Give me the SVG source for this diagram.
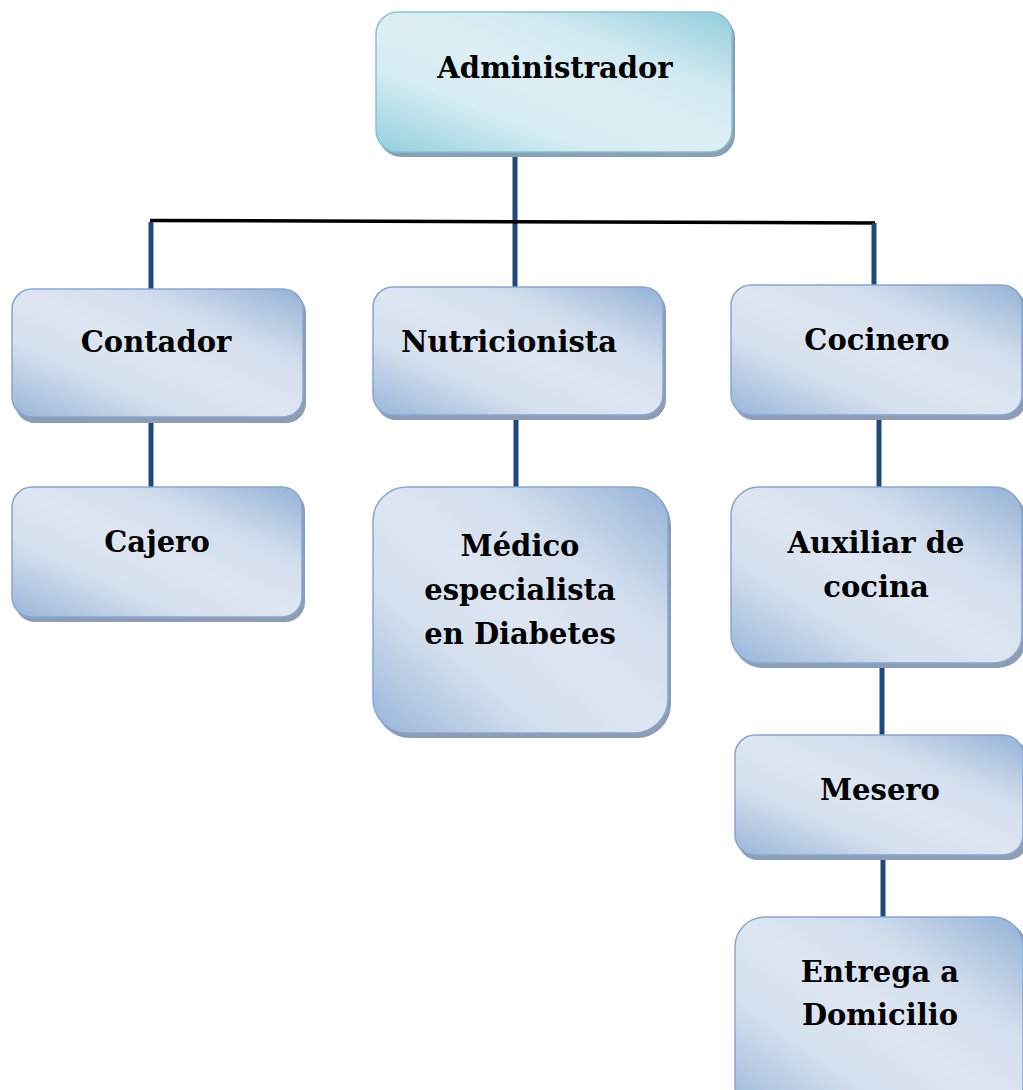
<svg xmlns="http://www.w3.org/2000/svg" width="1023" height="1090" viewBox="0 0 1023 1090">
<defs>
<linearGradient id="gBlue" x1="0" y1="1" x2="1" y2="0">
<stop offset="0" stop-color="#98b5da"/>
<stop offset="0.3" stop-color="#d5e0ee"/>
<stop offset="0.5" stop-color="#dde6f1"/>
<stop offset="0.7" stop-color="#d3deed"/>
<stop offset="1" stop-color="#94b2d7"/>
</linearGradient>
<linearGradient id="gCyan" x1="0" y1="1" x2="1" y2="0">
<stop offset="0" stop-color="#93cfde"/>
<stop offset="0.3" stop-color="#d5ecf2"/>
<stop offset="0.5" stop-color="#ddeff4"/>
<stop offset="0.7" stop-color="#d2eaf1"/>
<stop offset="1" stop-color="#91cddc"/>
</linearGradient>
</defs>
<style>
.shadow{fill:#8e9db2}
.box{fill:url(#gBlue);stroke:#85a7d2;stroke-width:1.5}
.admin{fill:url(#gCyan);stroke:#80c4d6;stroke-width:1.5}
.lbl{font-family:"DejaVu Serif","Liberation Serif",serif;font-weight:bold;font-size:29px;fill:#000;text-anchor:middle}
.conn{stroke:#1f497d;stroke-width:5;fill:none}
.bar{stroke:#000;stroke-width:3.5;fill:none}
</style>
<g id="connectors">
<line class="conn" x1="515" y1="154" x2="515" y2="288"/>
<line class="bar" x1="150" y1="220.5" x2="875" y2="223"/>
<line class="conn" x1="151" y1="222" x2="151" y2="290"/>
<line class="conn" x1="874" y1="223" x2="874" y2="286"/>
<line class="conn" x1="151" y1="416" x2="151" y2="488"/>
<line class="conn" x1="516" y1="414" x2="516" y2="488"/>
<line class="conn" x1="879" y1="414" x2="879" y2="488"/>
<line class="conn" x1="882" y1="662" x2="882" y2="736"/>
<line class="conn" x1="883" y1="854" x2="883" y2="918"/>
</g>
<g id="administrador">
<rect class="shadow" x="379" y="16" width="356" height="141" rx="22"/>
<rect class="admin" x="376" y="12" width="356" height="140" rx="22"/>
<text class="lbl" x="555" y="78">Administrador</text>
</g>
<g id="contador">
<rect class="shadow" x="15" y="293" width="291" height="130" rx="20"/>
<rect class="box" x="12" y="289" width="291" height="128" rx="20"/>
<text class="lbl" x="156" y="352">Contador</text>
</g>
<g id="nutricionista">
<rect class="shadow" x="376" y="291" width="290" height="129" rx="20"/>
<rect class="box" x="373" y="287" width="290" height="128" rx="20"/>
<text class="lbl" x="509" y="352">Nutricionista</text>
</g>
<g id="cocinero">
<rect class="shadow" x="734" y="289" width="292" height="131" rx="20"/>
<rect class="box" x="731" y="285" width="291" height="130" rx="20"/>
<text class="lbl" x="877" y="350">Cocinero</text>
</g>
<g id="cajero">
<rect class="shadow" x="15" y="491" width="290" height="131" rx="20"/>
<rect class="box" x="12" y="487" width="290" height="130" rx="20"/>
<text class="lbl" x="157" y="552">Cajero</text>
</g>
<g id="medico">
<rect class="shadow" x="376" y="491" width="295" height="247" rx="34"/>
<rect class="box" x="373" y="487" width="295" height="246" rx="34"/>
<text class="lbl" x="520" y="556">Médico</text>
<text class="lbl" x="520" y="600">especialista</text>
<text class="lbl" x="520" y="644">en Diabetes</text>
</g>
<g id="auxiliar">
<rect class="shadow" x="734" y="491" width="292" height="177" rx="28"/>
<rect class="box" x="731" y="487" width="291" height="176" rx="28"/>
<text class="lbl" x="876" y="553">Auxiliar de</text>
<text class="lbl" x="876" y="597">cocina</text>
</g>
<g id="mesero">
<rect class="shadow" x="738" y="739" width="290" height="121" rx="20"/>
<rect class="box" x="735" y="735" width="288" height="120" rx="20"/>
<text class="lbl" x="880" y="800">Mesero</text>
</g>
<g id="entrega">
<rect class="shadow" x="738" y="921" width="290" height="200" rx="30"/>
<rect class="box" x="735" y="917" width="288" height="200" rx="30"/>
<text class="lbl" x="880" y="982">Entrega a</text>
<text class="lbl" x="880" y="1025">Domicilio</text>
</g>
</svg>
